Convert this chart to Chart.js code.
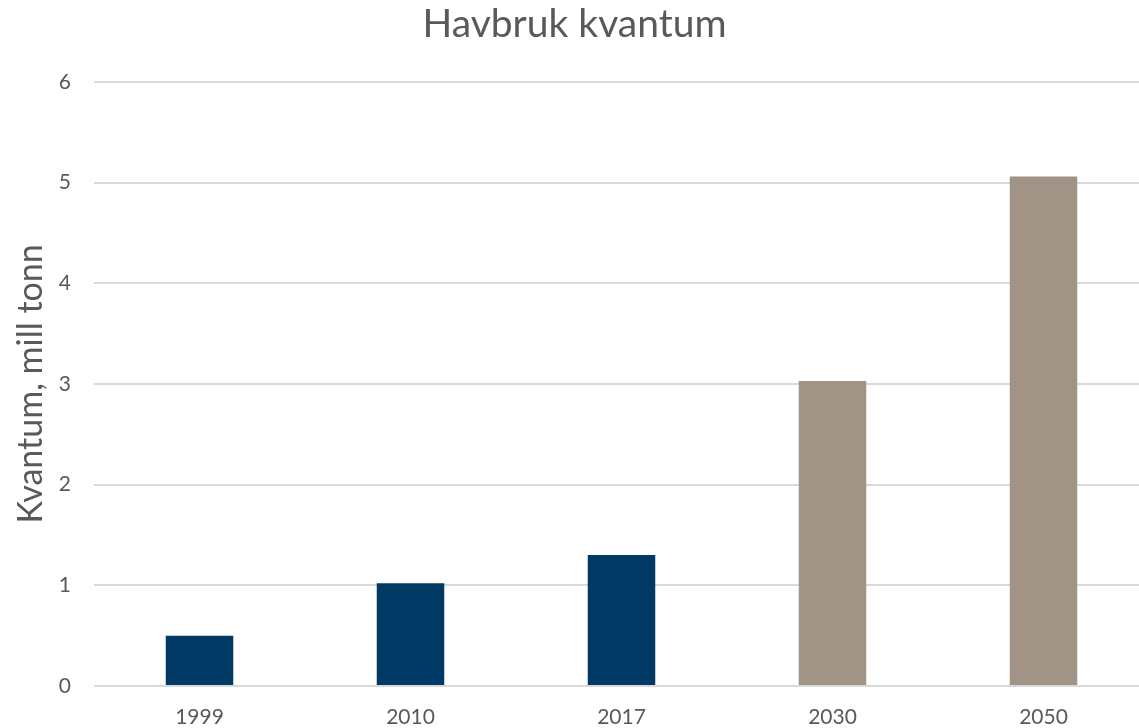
<!DOCTYPE html>
<html>
<head>
<meta charset="utf-8">
<script src="https://cdn.jsdelivr.net/npm/chart.js@4"></script>
<style>
  html, body { margin: 0; padding: 0; background: #fff; overflow: hidden; }
  /* the original plot runs a little past the right edge of the picture */
  #wrap { width: 1149px; height: 728px; }
</style>
</head>
<body>
<div id="wrap"><canvas id="havbrukChart"></canvas></div>
<script>
// data
const years = ['1999', '2010', '2017', '2030', '2050'];
const kvantum = [0.50, 1.02, 1.30, 3.03, 5.06];
const projected = [false, false, false, true, true];

const yTicks = [0, 1, 2, 3, 4, 5, 6];

const textGrey = '#595959';
const fontFamily = 'Lato, "Open Sans", sans-serif';

new Chart(document.getElementById('havbrukChart'), {
    type: 'bar',
    data: {
        labels: years,
        datasets: [{
            data: kvantum,
            backgroundColor: projected.map(p => p ? '#a19486' : '#003a64'),
            categoryPercentage: 1,
            barPercentage: 0.32
        }]
    },
    options: {
        responsive: true,
        maintainAspectRatio: false,
        animation: false,
        layout: { padding: 0 },
        plugins: {
            legend: { display: false },
            tooltip: { enabled: false },
            title: {
                display: true,
                text: 'Havbruk kvantum',
                color: textGrey,
                font: { family: fontFamily, size: 39, weight: 'normal' },
                padding: { top: 1, bottom: 34 }
            }
        },
        scales: {
            x: {
                grid: { display: false },
                border: { display: false },
                ticks: {
                    color: textGrey,
                    font: { family: fontFamily, size: 21 },
                    padding: 11,
                    maxRotation: 0
                },
                afterFit: s => { s.height = 42; }
            },
            y: {
                min: 0,
                max: 6,
                afterBuildTicks: s => { s.ticks = yTicks.map(v => ({ value: v })); },
                grid: { color: '#d9d9d9', lineWidth: 2, drawTicks: false },
                border: { display: false },
                ticks: {
                    color: textGrey,
                    font: { family: fontFamily, size: 21 },
                    padding: 23
                },
                title: {
                    display: true,
                    text: 'Kvantum, mill tonn',
                    color: textGrey,
                    font: { family: fontFamily, size: 34 },
                    padding: { top: 11, bottom: 0 }
                },
                afterFit: s => { s.width = 94; }
            }
        }
    }
});
</script>
</body>
</html>
